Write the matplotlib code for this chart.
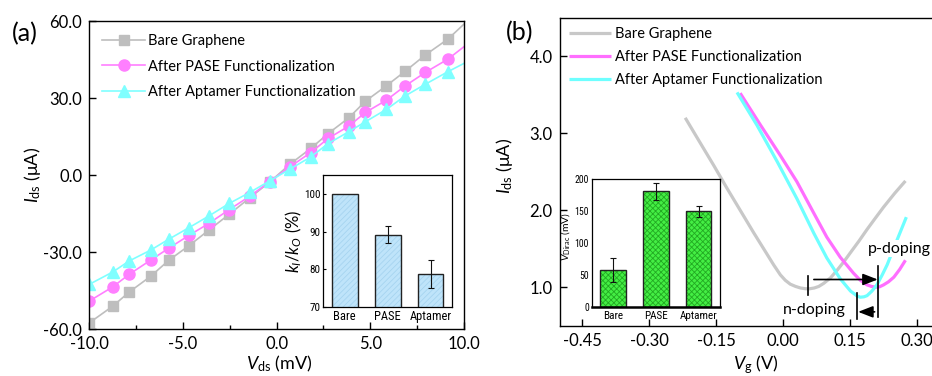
import matplotlib
matplotlib.use('Agg')
import matplotlib.pyplot as plt
from matplotlib.ticker import FormatStrFormatter, MultipleLocator
from matplotlib import font_manager
from matplotlib.font_manager import FontProperties

plt.rcParams['font.family'] = ['Lato', 'DejaVu Sans']
plt.rcParams['mathtext.fontset'] = 'custom'
plt.rcParams['mathtext.rm'] = 'Lato'
plt.rcParams['mathtext.it'] = 'Lato:italic'
plt.rcParams['mathtext.bf'] = 'Lato:bold'
plt.rcParams['hatch.linewidth'] = 0.6


def narrow_font(size):
    """Find a condensed sans font if one is installed, else Lato."""
    for f in font_manager.fontManager.ttflist:
        if f.name in ('Liberation Sans Narrow', 'Roboto Condensed', 'Open Sans Condensed'):
            if f.style == 'normal' and f.weight in (400, 'normal', 'regular'):
                return FontProperties(fname=f.fname, size=size), True
    for f in font_manager.fontManager.ttflist:
        fn = f.fname.lower()
        if 'condensed' in fn and 'bold' not in fn and 'oblique' not in fn and 'italic' not in fn \
                and 'mono' not in fn and 'serif' not in fn:
            return FontProperties(fname=f.fname, size=size), True
    return FontProperties(family='Lato', size=size * 0.85), False


# ---------------- Panel (a) data: I-V curves ----------------
vds = [-10.0, -8.75, -7.87, -6.73, -5.75, -4.67, -3.62, -2.53, -1.43, -0.36,
       0.70, 1.82, 2.75, 3.85, 4.74, 5.86, 6.87, 7.94, 9.15, 10.0]
ids_bare = [-57.5, -51.0, -45.5, -39.4, -33.1, -27.4, -21.4, -15.2, -8.8, -2.6,
            4.2, 10.4, 16.2, 22.3, 28.8, 34.8, 40.5, 46.8, 53.0, 58.8]
ids_pase = [-49.0, -43.5, -38.6, -33.1, -28.4, -23.4, -18.8, -13.4, -8.2, -2.5,
            3.2, 8.8, 14.3, 19.1, 24.4, 29.2, 34.8, 40.0, 45.2, 50.0]
ids_apt = [-42.5, -37.7, -33.4, -29.2, -24.9, -20.4, -15.9, -11.0, -6.7, -2.2,
           2.3, 7.1, 12.3, 16.9, 20.8, 25.6, 30.9, 35.4, 40.3, 43.5]
series_a_labels = ['Bare Graphene', 'After PASE Functionalization', 'After Aptamer Functionalization']

# inset (a): conductance ratio
inset_a_cats = ['Bare', 'PASE', 'Aptamer']
inset_a_vals = [100.0, 89.2, 78.7]
inset_a_errs = [0.0, 2.3, 3.7]

# ---------------- Panel (b) data: transfer curves ----------------
vg_bare = [-0.219, -0.185, -0.155, -0.125, -0.096, -0.066, -0.036, -0.021, -0.006, 0.005,
           0.016, 0.028, 0.039, 0.050, 0.060, 0.070, 0.080, 0.091, 0.106, 0.121,
           0.136, 0.151, 0.170, 0.188, 0.207, 0.225, 0.250, 0.274]
ig_bare = [3.20, 2.87, 2.58, 2.28, 2.00, 1.71, 1.43, 1.29, 1.16, 1.09,
           1.04, 1.01, 0.99, 0.98, 0.98, 0.99, 1.01, 1.05, 1.12, 1.22,
           1.33, 1.45, 1.60, 1.75, 1.90, 2.04, 2.22, 2.38]
vg_pase = [-0.096, -0.051, -0.006, 0.031, 0.069, 0.098, 0.128, 0.158, 0.173, 0.188,
           0.198, 0.207, 0.216, 0.225, 0.236, 0.248, 0.261, 0.274]
ig_pase = [3.52, 3.11, 2.71, 2.37, 1.96, 1.65, 1.39, 1.18, 1.09, 1.03,
           1.01, 1.00, 1.005, 1.03, 1.07, 1.13, 1.23, 1.35]
vg_apt = [-0.103, -0.058, -0.013, 0.031, 0.069, 0.098, 0.128, 0.151, 0.166, 0.173,
          0.181, 0.188, 0.199, 0.210, 0.222, 0.233, 0.255, 0.276]
ig_apt = [3.53, 3.10, 2.63, 2.15, 1.70, 1.38, 1.11, 0.95, 0.885, 0.87,
          0.875, 0.89, 0.95, 1.03, 1.16, 1.29, 1.61, 1.91]

# Dirac point markers and shift arrows (V, I)
dirac_bare_line = (0.056, 1.14, 0.90)
dirac_pase_line = (0.213, 1.27, 0.61)
dirac_apt_line = (0.166, 0.92, 0.59)
p_arrow = (0.069, 0.212, 1.10)   # from, to, level
n_arrow = (0.205, 0.168, 0.68)
n_text_pos = (0.069, 0.71)
p_text_pos = (0.190, 1.50)

# inset (b): Dirac voltage
inset_b_cats = ['Bare', 'PASE', 'Aptamer']
inset_b_vals = [58.0, 181.0, 150.0]
inset_b_errs = [19.0, 13.5, 8.4]

C_GRAY = '#BEBEBE'
C_PINK = '#FF7FFF'
C_CYAN = '#7FFFFF'

fig = plt.figure(figsize=(9.32, 3.76), dpi=100)

# ================= Panel (a) =================
axA = fig.add_axes([89.3 / 932, 1 - 329.3 / 376, 374.7 / 932, 308.3 / 376])
kw = dict(lw=1.2, markevery=slice(0, 19), clip_on=True)
axA.plot(vds, ids_bare, color=C_GRAY, marker='s', ms=6.5, mec=C_GRAY, label=series_a_labels[0], **kw)
axA.plot(vds, ids_pase, color=C_PINK, marker='o', ms=8, mec=C_PINK, label=series_a_labels[1], **kw)
axA.plot(vds, ids_apt, color=C_CYAN, marker='^', ms=8, mec=C_CYAN, label=series_a_labels[2], **kw)
axA.set_xlim(-10, 10)
axA.set_ylim(-60, 60)
axA.set_xticks([-10, -5, 0, 5, 10])
axA.xaxis.set_minor_locator(MultipleLocator(2.5))
axA.set_yticks([-60, -30, 0, 30, 60])
axA.xaxis.set_major_formatter(FormatStrFormatter('%.1f'))
axA.yaxis.set_major_formatter(FormatStrFormatter('%.1f'))
axA.tick_params(which='major', direction='in', length=5, width=1, labelsize=12, pad=5)
axA.tick_params(which='minor', direction='in', length=3, width=1)
for s in axA.spines.values():
    s.set_linewidth(1.0)
axA.set_ylabel(r'$I_{\mathrm{ds}}$ ($\mathrm{\mu}$A)', fontsize=13)
axA.yaxis.set_label_coords(-0.123, 0.5)
axA.set_xlabel(r'$V_{\mathrm{ds}}$ (mV)', fontsize=13)
axA.xaxis.set_label_coords(0.508, -0.08)
axA.legend(loc='upper left', bbox_to_anchor=(0.0, 1.0), frameon=False, fontsize=10.5,
           handlelength=2.9, handletextpad=0.2, labelspacing=0.78, borderaxespad=0.45,
           borderpad=0.45, numpoints=1)
fig.text(25 / 932, 1 - 34 / 376, '(a)', fontsize=18, ha='center', va='center')

# inset (a)
inA = fig.add_axes([323.3 / 932, 1 - 307 / 376, 128.7 / 932, 132 / 376])
xa = [1, 2, 3]
inA.bar(xa, inset_a_vals, width=0.6, color='#BFE4FA', edgecolor='#A6D4F0', hatch='//////', linewidth=0)
inA.bar(xa, inset_a_vals, width=0.6, fill=False, edgecolor='#222222', linewidth=1.0)
inA.errorbar(xa[1:], inset_a_vals[1:], yerr=inset_a_errs[1:], fmt='none', ecolor='#111111',
             elinewidth=0.8, capsize=2.5, capthick=0.8)
inA.set_xlim(0.5, 3.5)
inA.set_ylim(70, 105)
inA.set_xticks(xa)
inA.set_xticklabels(inset_a_cats)
inA.set_yticks([70, 80, 90, 100])
inA.set_yticklabels(['70', '80', '90', '100'])
fpx, ok = narrow_font(9)
fpy, _ = narrow_font(8)
for t in inA.get_xticklabels():
    t.set_fontproperties(fpx)
for t in inA.get_yticklabels():
    t.set_fontproperties(fpy)
inA.tick_params(axis='x', length=0, pad=2)
inA.tick_params(axis='y', direction='in', length=2, pad=2)
inA.set_ylabel(r'$k_I/k_O$ (%)', fontsize=12)
inA.yaxis.set_label_coords(-0.15, 0.5)
for s in inA.spines.values():
    s.set_linewidth(0.9)

# ================= Panel (b) =================
xmin_b, xmax_b = -0.50, 0.38
axB = fig.add_axes([559.7 / 932, 1 - 325.7 / 376, (xmax_b - xmin_b) * 446.7 / 932, 308 / 376])
axB.plot(vg_bare, ig_bare, color='#C8C8C8', lw=2.3, label='Bare Graphene', solid_capstyle='butt')
axB.plot(vg_pase, ig_pase, color='#FF6EFF', lw=2.3, label='After PASE Functionalization', solid_capstyle='butt')
axB.plot(vg_apt, ig_apt, color='#6EFFFF', lw=2.3, label='After Aptamer Functionalization', solid_capstyle='butt')
axB.set_xlim(xmin_b, xmax_b)
axB.set_ylim(0.5, 4.5)
axB.set_xticks([-0.45, -0.30, -0.15, 0.00, 0.15, 0.30])
axB.set_yticks([1.0, 2.0, 3.0, 4.0])
axB.xaxis.set_major_formatter(FormatStrFormatter('%.2f'))
axB.yaxis.set_major_formatter(FormatStrFormatter('%.1f'))
axB.tick_params(which='major', direction='in', length=5, width=1, labelsize=12, pad=5)
for s in axB.spines.values():
    s.set_linewidth(1.0)
axB.set_ylabel(r'$I_{\mathrm{ds}}$ ($\mathrm{\mu}$A)', fontsize=13)
axB.yaxis.set_label_coords(-0.113, 0.52)
axB.set_xlabel(r'$V_{\mathrm{g}}$ (V)', fontsize=13)
axB.xaxis.set_label_coords(0.5, -0.09)
axB.legend(loc='upper left', bbox_to_anchor=(0.0, 1.0), frameon=False, fontsize=10.5,
           handlelength=2.9, handletextpad=0.25, labelspacing=0.62, borderaxespad=0.25,
           borderpad=0.4)
fig.text(520 / 932, 1 - 33 / 376, '(b)', fontsize=18, ha='center', va='center')

# annotations
for v, i0, i1 in (dirac_bare_line, dirac_pase_line, dirac_apt_line):
    axB.plot([v, v], [i0, i1], color='black', lw=1.2)
for arr in (p_arrow, n_arrow):
    axB.annotate('', xy=(arr[1], arr[2]), xytext=(arr[0], arr[2]),
                 arrowprops=dict(arrowstyle='-|>,head_length=0.9,head_width=0.35', color='black',
                                 lw=1.2, shrinkA=0, shrinkB=0, mutation_scale=10))
axB.text(n_text_pos[0], n_text_pos[1], 'n-doping', fontsize=11.5, ha='center', va='center')
axB.text(p_text_pos[0], p_text_pos[1], 'p-doping', fontsize=11.5, ha='left', va='center',
         bbox=dict(facecolor='white', edgecolor='none', pad=1.0), zorder=5)

# inset (b)
inB = fig.add_axes([591.7 / 932, 1 - 306.7 / 376, 128.3 / 932, 127.4 / 376])
xb = [1, 2, 3]
inB.bar(xb, inset_b_vals, width=0.6, color='#44EE44', edgecolor='#22AA22', hatch='xxxxxx', linewidth=0)
inB.bar(xb, inset_b_vals, width=0.6, fill=False, edgecolor='#222222', linewidth=1.0)
inB.errorbar(xb, inset_b_vals, yerr=inset_b_errs, fmt='none', ecolor='#111111',
             elinewidth=0.8, capsize=2.5, capthick=0.8)
inB.set_xlim(0.5, 3.5)
inB.set_ylim(0, 200)
inB.set_xticks(xb)
inB.set_xticklabels(inset_b_cats)
inB.set_yticks([0, 50, 100, 150, 200])
inB.set_yticklabels(['0', '50', '100', '150', '200'])
fbx, _ = narrow_font(8)
fby, _ = narrow_font(7)
for t in inB.get_xticklabels():
    t.set_fontproperties(fbx)
for t in inB.get_yticklabels():
    t.set_fontproperties(fby)
inB.tick_params(axis='x', length=0, pad=3)
inB.tick_params(axis='y', length=0, pad=2)
fig.text(566 / 932, 1 - 236.5 / 376, r'$V_{\mathrm{Dirac}}$ (mV)', fontsize=7.5,
         rotation=90, ha='center', va='center')
for k, s in inB.spines.items():
    s.set_linewidth(0.9)
inB.spines['bottom'].set_linewidth(1.8)

fig.savefig('out.png', dpi=100)
